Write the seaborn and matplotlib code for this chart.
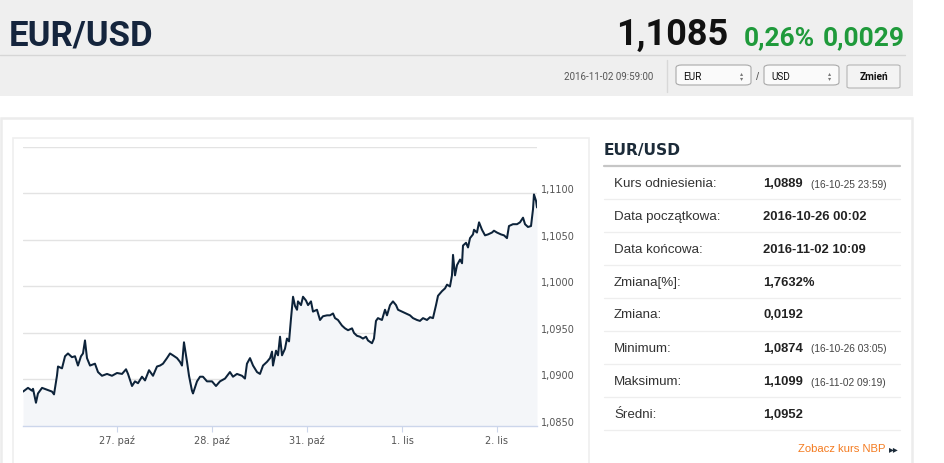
import matplotlib
matplotlib.use("Agg")
import matplotlib.pyplot as plt
import seaborn as sns
from matplotlib.patches import Rectangle, FancyBboxPatch
from matplotlib.lines import Line2D
from matplotlib.transforms import ScaledTranslation
import logging
logging.getLogger("matplotlib.font_manager").setLevel(logging.ERROR)

# ---------------- data ----------------
# position in trading days since 2016-10-26 00:00 (weekend skipped)
positions = [
    0.011, 0.063, 0.105, 0.116, 0.147, 0.168, 0.211, 0.263, 0.316, 0.337,
    0.368, 0.379, 0.421, 0.453, 0.484, 0.526, 0.558, 0.589, 0.621, 0.642,
    0.663, 0.684, 0.716, 0.768, 0.800, 0.842, 0.895, 0.947, 1.000, 1.053,
    1.095, 1.116, 1.158, 1.189, 1.221, 1.263, 1.295, 1.337, 1.379, 1.421,
    1.453, 1.484, 1.526, 1.558, 1.589, 1.632, 1.663, 1.684, 1.705, 1.737,
    1.758, 1.789, 1.800, 1.842, 1.874, 1.905, 1.947, 2.000, 2.042, 2.084,
    2.137, 2.189, 2.221, 2.263, 2.316, 2.347, 2.368, 2.400, 2.432, 2.474,
    2.505, 2.537, 2.579, 2.611, 2.632, 2.642, 2.674, 2.695, 2.716, 2.737,
    2.768, 2.789, 2.811, 2.832, 2.853, 2.874, 2.895, 2.905, 2.937, 2.958,
    2.989, 3.011, 3.042, 3.063, 3.105, 3.137, 3.168, 3.211, 3.242, 3.274,
    3.295, 3.326, 3.368, 3.400, 3.432, 3.474, 3.495, 3.526, 3.558, 3.589,
    3.621, 3.642, 3.684, 3.705, 3.726, 3.747, 3.789, 3.821, 3.842, 3.874,
    3.905, 3.937, 3.958, 4.000, 4.042, 4.084, 4.116, 4.158, 4.189, 4.221,
    4.263, 4.295, 4.326, 4.358, 4.379, 4.421, 4.453, 4.474, 4.505, 4.526,
    4.537, 4.558, 4.579, 4.611, 4.632, 4.642, 4.674, 4.695, 4.716, 4.747,
    4.758, 4.789, 4.811, 4.842, 4.874, 4.905, 4.947, 4.968, 5.000, 5.042,
    5.074, 5.105, 5.126, 5.168, 5.211, 5.242, 5.274, 5.295, 5.326, 5.358,
    5.379, 5.389, 5.411, 5.421,
]
rates = [
    1.0887, 1.0891, 1.0888, 1.0890, 1.0875, 1.0885, 1.0891, 1.0889, 1.0887, 1.0884,
    1.0904, 1.0914, 1.0912, 1.0925, 1.0928, 1.0924, 1.0925, 1.0915, 1.0925, 1.0928,
    1.0942, 1.0923, 1.0915, 1.0917, 1.0908, 1.0904, 1.0906, 1.0904, 1.0907, 1.0906,
    1.0911, 1.0906, 1.0893, 1.0898, 1.0896, 1.0903, 1.0899, 1.0910, 1.0904, 1.0914,
    1.0915, 1.0917, 1.0923, 1.0928, 1.0926, 1.0923, 1.0919, 1.0915, 1.0940, 1.0919,
    1.0904, 1.0888, 1.0885, 1.0898, 1.0903, 1.0903, 1.0898, 1.0898, 1.0893, 1.0898,
    1.0901, 1.0908, 1.0903, 1.0906, 1.0904, 1.0901, 1.0917, 1.0923, 1.0915, 1.0908,
    1.0906, 1.0915, 1.0919, 1.0923, 1.0930, 1.0915, 1.0931, 1.0926, 1.0946, 1.0926,
    1.0933, 1.0944, 1.0941, 1.0966, 1.0989, 1.0979, 1.0975, 1.0984, 1.0980, 1.0989,
    1.0985, 1.0980, 1.0984, 1.0973, 1.0975, 1.0964, 1.0968, 1.0969, 1.0969, 1.0971,
    1.0966, 1.0964, 1.0958, 1.0955, 1.0953, 1.0955, 1.0950, 1.0947, 1.0946, 1.0944,
    1.0946, 1.0942, 1.0939, 1.0944, 1.0963, 1.0966, 1.0964, 1.0975, 1.0969, 1.0980,
    1.0984, 1.0980, 1.0975, 1.0973, 1.0971, 1.0969, 1.0966, 1.0964, 1.0963, 1.0966,
    1.0964, 1.0967, 1.0966, 1.0980, 1.0990, 1.0995, 1.0998, 1.1002, 1.1000, 1.1012,
    1.1034, 1.1012, 1.1023, 1.1029, 1.1025, 1.1044, 1.1047, 1.1042, 1.1052, 1.1056,
    1.1061, 1.1058, 1.1069, 1.1061, 1.1055, 1.1056, 1.1058, 1.1060, 1.1058, 1.1056,
    1.1055, 1.1052, 1.1065, 1.1067, 1.1067, 1.1069, 1.1074, 1.1067, 1.1064, 1.1065,
    1.1083, 1.1099, 1.1092, 1.1085,
]
x_tick_pos = [1, 2, 3, 4, 5]
x_tick_labels = ["27. paź", "28. paź", "31. paź", "1. lis", "2. lis"]
y_ticks = [1.085, 1.090, 1.095, 1.100, 1.105, 1.110, 1.115]
y_tick_labels = ["1,0850", "1,0900", "1,0950", "1,1000", "1,1050", "1,1100", ""]

pair_name = "EUR/USD"
last_rate = "1,1085"
change_pct = "0,26%"
change_abs = "0,0029"
quote_time = "2016-11-02 09:59:00"
base_cur = "EUR"
quote_cur = "USD"
button_label = "Zmień"

table_labels = ["Kurs odniesienia:", "Data początkowa:", "Data końcowa:", "Zmiana[%]:",
                "Zmiana:", "Minimum:", "Maksimum:", "Średni:"]
table_values = ["1,0889", "2016-10-26 00:02", "2016-11-02 10:09", "1,7632%",
                "0,0192", "1,0874", "1,1099", "1,0952"]
table_notes = ["(16-10-25 23:59)", "", "", "", "", "(16-10-26 03:05)", "(16-11-02 09:19)", ""]
nbp_link = "Zobacz kurs NBP"

# ---------------- figure ----------------
sns.set_theme(style="white")
plt.rcParams["font.family"] = ["Liberation Sans", "DejaVu Sans"]

W, H = 945, 464
fig = plt.figure(figsize=(W / 100, H / 100), dpi=100)
fig.patch.set_facecolor("white")

def fx(x):
    return x / W

def fy(y):
    return 1 - y / H

def rect(x0, y0, x1, y1, **kw):
    fig.add_artist(Rectangle((fx(x0), fy(y1)), (x1 - x0) / W, (y1 - y0) / H,
                             transform=fig.transFigure, **kw))

def line(x0, y0, x1, y1, **kw):
    fig.add_artist(Line2D([fx(x0), fx(x1)], [fy(y0), fy(y1)], transform=fig.transFigure, **kw))

def txt(x, y, s, **kw):
    return fig.text(fx(x), fy(y), s, **kw)

# header band
rect(0, 0, 913, 97, facecolor="#efefef", edgecolor="none", zorder=0)
line(0, 56, 905, 56, color="#d6d6d6", lw=1.0)
narrow = ["Liberation Sans Narrow", "Roboto", "DejaVu Sans"]
txt(9, 45, pair_name, family=narrow, fontsize=25, fontweight="bold", color="#15253d", va="baseline")
txt(728, 45, last_rate, family=narrow, fontsize=26, fontweight="bold", color="#111111",
    va="baseline", ha="right")
txt(815, 45, change_pct, family=narrow, fontsize=19, fontweight="bold", color="#1f9a3b",
    va="baseline", ha="right")
txt(905, 45, change_abs, family=narrow, fontsize=19, fontweight="bold", color="#1f9a3b",
    va="baseline", ha="right")
txt(653, 77, quote_time, family=narrow, fontsize=7, color="#555555", va="center", ha="right")
line(667, 61, 667, 93, color="#d8d8d8", lw=1.0)

def dropdown(x0, x1, label):
    fig.add_artist(FancyBboxPatch((fx(x0), fy(86)), (x1 - x0) / W, 20 / H,
                                  boxstyle="round,pad=0,rounding_size=0.006",
                                  transform=fig.transFigure, facecolor="#fafafa",
                                  edgecolor="#a9a9a9", lw=0.8))
    txt(x0 + 7, 76.5, label, fontsize=7.2, color="#111111", va="center", family=narrow)
    txt(x1 - 9, 73.5, "▴", fontsize=4.5, color="#777777", va="center", ha="center",
        family=["DejaVu Sans"])
    txt(x1 - 9, 79, "▾", fontsize=4.5, color="#777777", va="center", ha="center",
        family=["DejaVu Sans"])

dropdown(676, 751, base_cur)
txt(757.5, 76.5, "/", fontsize=8, color="#555555", va="center", ha="center")
dropdown(764, 839, quote_cur)
fig.add_artist(FancyBboxPatch((fx(847), fy(89)), 53 / W, 23 / H,
                              boxstyle="round,pad=0,rounding_size=0.003",
                              transform=fig.transFigure, facecolor="#f3f3f3",
                              edgecolor="#b5b5b5", lw=0.8))
txt(873.5, 77.5, button_label, fontsize=7.3, fontweight="bold", color="#111111",
    va="center", ha="center", family=narrow)

# panels
rect(1.5, 118.5, 912, 475, facecolor="none", edgecolor="#ececec", lw=1.8)
rect(13.5, 138.5, 589, 475, facecolor="none", edgecolor="#efefef", lw=1.2)

# ---------------- chart ----------------
ax = fig.add_axes([fx(23), fy(427), (537 - 23) / W, (427 - 148) / H])
ax.patch.set_alpha(0)
ax.fill_between(positions, rates, 1.085, color="#f4f6f9", lw=0, zorder=1)
sns.lineplot(x=positions, y=rates, ax=ax, color="#0d233a", linewidth=1.45, zorder=3)
ax.set_xlim((23 - 22) / 95, (537 - 22) / 95)
ax.set_ylim(1.085, 1.115)
ax.set_yticks(y_ticks)
ax.set_yticklabels(y_tick_labels)
ax.yaxis.tick_right()
ax.grid(axis="y", color="#e3e3e3", lw=1.0, zorder=0)
ax.grid(axis="x", visible=False)
ax.tick_params(axis="y", length=0, pad=2.5, labelsize=7, labelcolor="#555555")
for lab in ax.get_yticklabels():
    lab.set_family("DejaVu Sans")
    lab.set_transform(lab.get_transform() + ScaledTranslation(0, 5 / 100, fig.dpi_scale_trans))
ax.set_xticks(x_tick_pos)
ax.set_xticklabels(x_tick_labels)
ax.tick_params(axis="x", bottom=True, length=4.3, width=0.8, color="#ccd6eb", pad=2,
               labelsize=7, labelcolor="#555555", direction="out")
for lab in ax.get_xticklabels():
    lab.set_family("DejaVu Sans")
for s in ["top", "left", "right"]:
    ax.spines[s].set_visible(False)
ax.spines["bottom"].set_color("#ccd6eb")
ax.spines["bottom"].set_linewidth(1.0)
ax.spines["bottom"].set_zorder(4)
ax.set_xlabel("")
ax.set_ylabel("")

# ---------------- stats table ----------------
txt(604, 151, pair_name, family=["DejaVu Sans"], fontsize=11.2, fontweight="bold",
    color="#1c2b39", va="center")
line(604, 167, 900, 167, color="#c6c6c6", lw=1.6)
row_y = [184, 217, 250, 283, 315.5, 349, 382, 415]
sep_y = [200, 233, 266, 299, 331.5, 365, 398, 431]
for i, (lab, val, note) in enumerate(zip(table_labels, table_values, table_notes)):
    y = row_y[i]
    txt(614, y, lab, fontsize=9.6, color="#333333", va="center")
    txt(763, y, val, fontsize=9.4, fontweight="bold", color="#222222", va="center")
    if note:
        txt(811, y + 0.5, note, fontsize=7.3, color="#444444", va="center")
    line(604, sep_y[i], 900, sep_y[i], color="#eeeeee", lw=0.9)
txt(886, 449, nbp_link, fontsize=8.1, color="#f47b20", va="center", ha="right")
txt(899, 449, "▸▸", family=["DejaVu Sans"], fontsize=7, color="#1c2b39", va="center", ha="right")

fig.savefig("out.png", dpi=100, facecolor="white")
